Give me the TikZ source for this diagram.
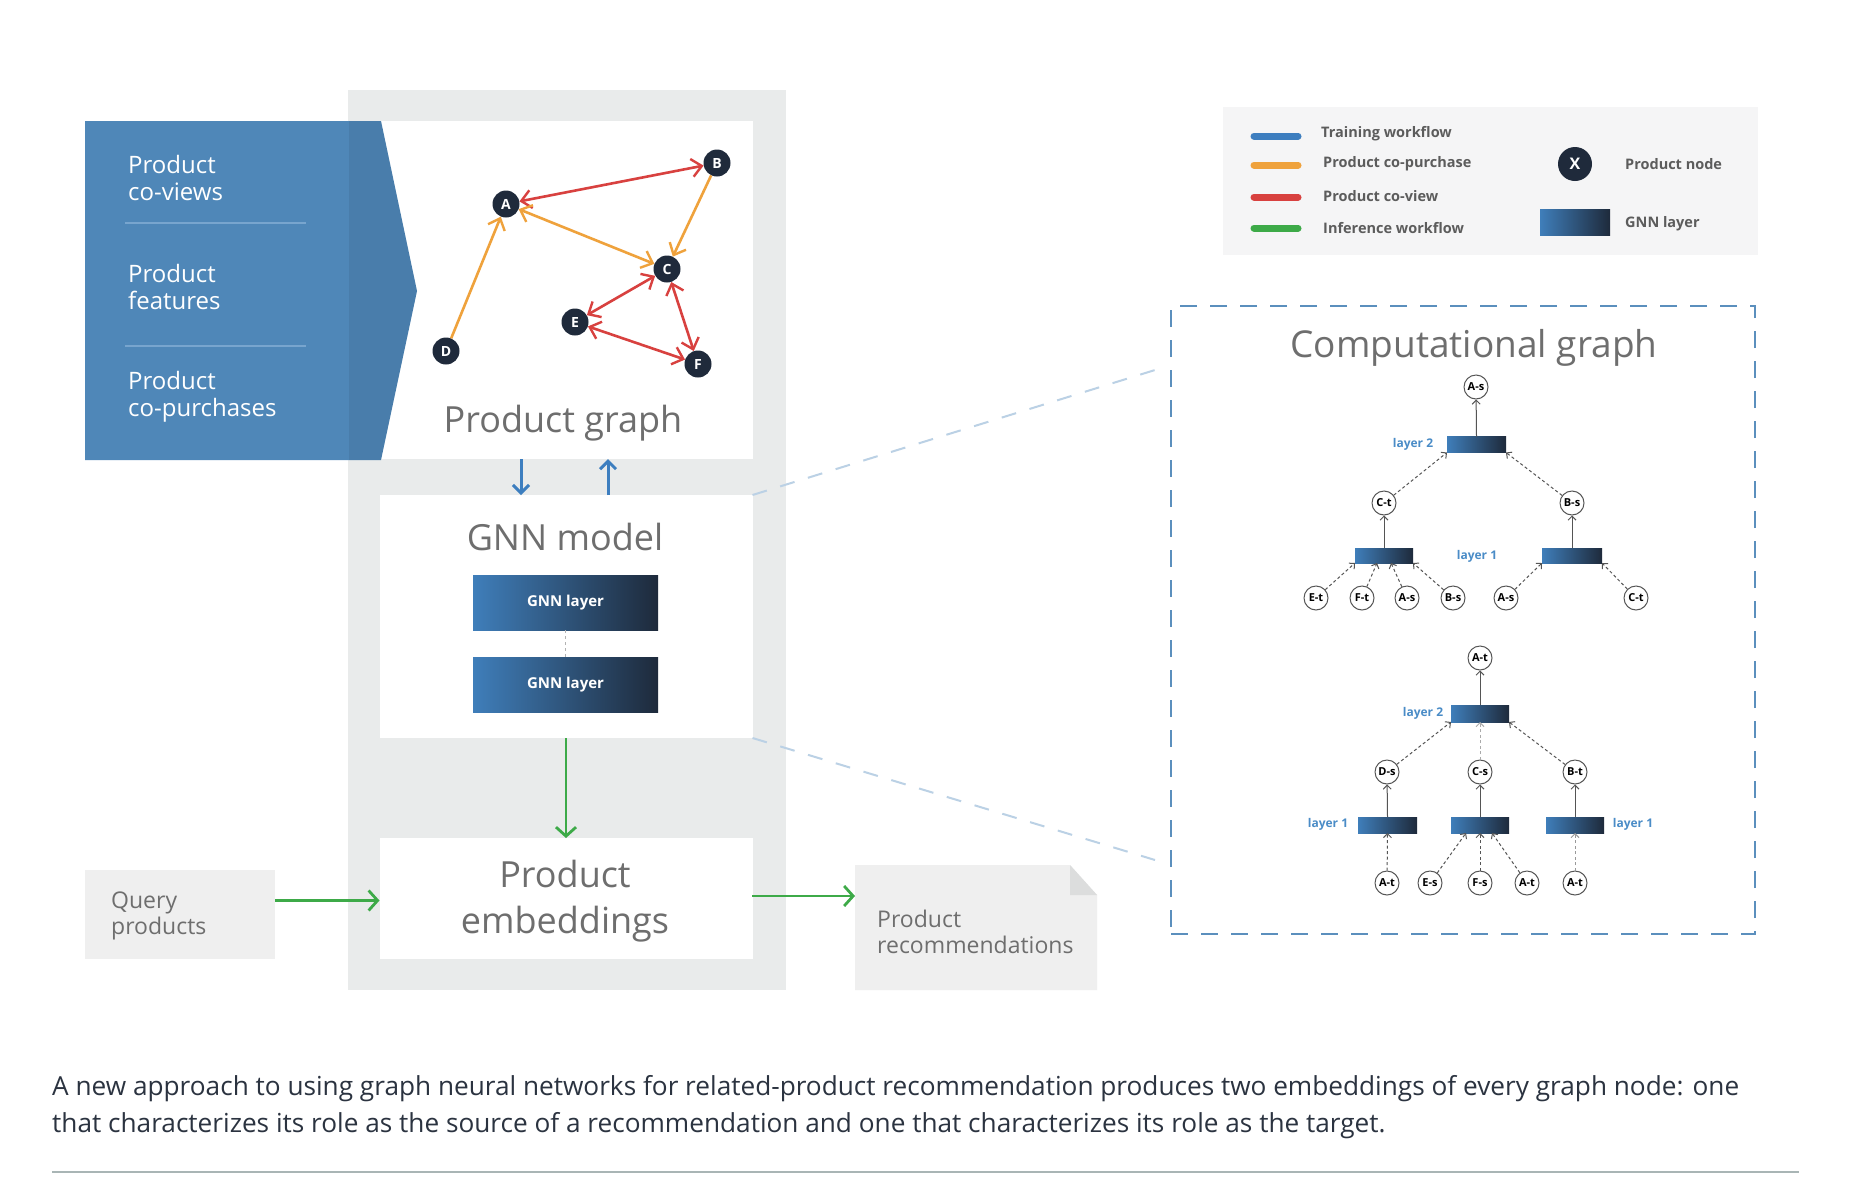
\documentclass[tikz,border=0pt]{standalone}
\usepackage{fontspec}
\setmainfont{Open Sans}
\usetikzlibrary{arrows.meta}
\definecolor{panelgray}{HTML}{E9EBEB}
\definecolor{lightbox}{HTML}{EFEFEF}
\definecolor{foldgray}{HTML}{DCDDDD}
\definecolor{bluepanel}{HTML}{4F87B8}
\definecolor{sepblue}{HTML}{78A5CE}
\definecolor{titlegray}{HTML}{6E6E6E}
\definecolor{navy}{HTML}{1F2A3B}
\definecolor{coview}{HTML}{D8413F}
\definecolor{copurch}{HTML}{EFA23C}
\definecolor{inferg}{HTML}{3DAA48}
\definecolor{trainb}{HTML}{3D7EBF}
\definecolor{barL}{HTML}{3F7EBA}
\definecolor{barR}{HTML}{1E2A3B}
\definecolor{legtext}{HTML}{5C5C5C}
\definecolor{legbg}{HTML}{F5F5F6}
\definecolor{cgdash}{HTML}{5B8FBD}
\definecolor{zoomdash}{HTML}{BBD1E5}
\definecolor{laylab}{HTML}{4A8CC7}
\definecolor{captext}{HTML}{2B3340}
\definecolor{rulecol}{HTML}{A9B5B5}
\definecolor{cgline}{HTML}{555555}
\begin{document}
\begin{tikzpicture}[x=1pt,y=-1pt,
  box/.style={inner sep=0pt, outer sep=0pt},
  title/.style={font=\fontsize{36}{46}\selectfont, text=titlegray, inner sep=0pt},
  ptext/.style={font=\fontsize{24}{26.5}\selectfont, text=white, align=left, anchor=west, inner sep=0pt},
  gtext/.style={font=\fontsize{23}{25.5}\selectfont, text=titlegray, align=left, anchor=west, inner sep=0pt},
  pnode/.style={circle, fill=navy, text=white, font=\bfseries\fontsize{14}{14}\selectfont, inner sep=0pt, minimum size=27pt},
  cnode/.style={circle, draw=cgline, line width=1pt, fill=white, font=\bfseries\fontsize{11}{11}\selectfont, inner sep=0pt, minimum size=24pt},
  gbar/.style={rectangle, left color=barL, right color=barR, inner sep=0pt, outer sep=0pt},
  laybl/.style={font=\bfseries\fontsize{12}{12}\selectfont, text=laylab, inner sep=0pt},
  legtxt/.style={font=\bfseries\fontsize{14.5}{15}\selectfont, text=legtext, anchor=west, inner sep=0pt},
  covw/.style={draw=coview, line width=2.6pt},
  copu/.style={draw=copurch, line width=2.6pt},
  garrow/.style={draw=inferg, line width=2.8pt, -{Straight Barb[length=9pt,width=20pt,line width=2.8pt]}},
  barrow/.style={draw=trainb, line width=3pt, -{Straight Barb[length=8pt,width=16pt,line width=3pt]}},
  solarr/.style={draw=cgline, line width=1pt, -{Straight Barb[length=4pt,width=8pt]}},
  dsharr/.style={draw=cgline, line width=1pt, dash pattern=on 3pt off 2.5pt, -{Straight Barb[length=4pt,width=8pt]}},
  >={Straight Barb[length=10pt,width=18pt,line width=2.4pt]}
]
\useasboundingbox (0,0) rectangle (1856,1200);
\fill[white] (0,0) rectangle (1856,1200);

% gray panel
\node[box, fill=panelgray, minimum width=438pt, minimum height=900pt] (panel) at (567,540) {};
% white boxes
\node[box, fill=white, minimum width=372pt, minimum height=338pt] (graph) at (567,290) {};
\node[box, fill=white, minimum width=373pt, minimum height=243pt] (gnnbox) at (566,616.5) {};
\node[box, fill=white, minimum width=373pt, minimum height=121pt] (pe) at (566,898.5) {};

% blue input panel
\fill[bluepanel] (85,121) -- (381,121) -- (417,291) -- (381,460) -- (85,460) -- cycle;
\fill[black, opacity=0.07] (349,121) -- (381,121) -- (417,291) -- (381,460) -- (349,460) -- cycle;
\draw[sepblue, line width=2pt] (125,223) -- (306,223);
\draw[sepblue, line width=2pt] (125,346) -- (306,346);
\node[ptext] (t1) at (128,178) {Product\\co-views};
\node[ptext] (t2) at (128,287) {Product\\features};
\node[ptext] (t3) at (128,397) {Product\\co-purchases};

% product graph
\node[pnode] (A) at (506,204) {A};
\node[pnode] (B) at (717,163) {B};
\node[pnode] (C) at (667,269) {C};
\node[pnode] (D) at (446,351) {D};
\node[pnode] (E) at (575,322) {E};
\node[pnode] (F) at (698,364) {F};
\draw[covw, <->] (A) -- (B);
\draw[copu, ->] (B) -- (C);
\draw[copu, <->] (A) -- (C);
\draw[copu, ->] (D) -- (A);
\draw[covw, <->] (C) -- (E);
\draw[covw, <->] (C) -- (F);
\draw[covw, <->] (E) -- (F);
\node[title, anchor=base] (pgt) at (563,432) {Product graph};

% training arrows
\coordinate (bd) at (521,0);
\coordinate (bu) at (608,0);
\draw[barrow] (bd |- graph.south) -- (bd |- gnnbox.north);
\draw[barrow] (bu |- gnnbox.north) -- (bu |- graph.south);

% GNN model
\node[title, anchor=base] (gnt) at (565,550) {GNN model};
\node[gbar, minimum width=185pt, minimum height=55pt, text=white, font=\bfseries\fontsize{15}{15}\selectfont] (g1) at (565.5,602.5) {GNN layer};
\node[gbar, minimum width=185pt, minimum height=55pt, text=white, font=\bfseries\fontsize{15}{15}\selectfont] (g2) at (565.5,684.5) {GNN layer};
\draw[gray!60, line width=0.8pt, dashed] (g1.south) -- (g2.north);

% inference flow
\draw[garrow] (gnnbox.south) -- (pe.north);
\node[title, align=center] (pet) at (565,901) {Product\\embeddings};
\node[box, fill=lightbox, minimum width=190pt, minimum height=89pt] (query) at (180,914.5) {};
\node[gtext] (qt) at (111,916) {Query\\products};
\coordinate (q1) at (275,900.5);
\draw[garrow] (q1) -- (q1 -| pe.west);
\node[box, minimum width=242pt, minimum height=125pt] (rec) at (976,927.5) {};
\fill[lightbox] (855,865) -- (1070,865) -- (1097,895) -- (1097,990) -- (855,990) -- cycle;
\fill[foldgray] (1070,865) -- (1097,895) -- (1070,895) -- cycle;
\node[gtext] (rt) at (877,932) {Product\\recommendations};
\coordinate (p1) at (752,896);
\draw[garrow] (p1) -- (p1 -| rec.west);

% legend
\node[box, fill=legbg, minimum width=535pt, minimum height=148pt] (legend) at (1490.5,181) {};
\draw[trainb, line width=7pt, line cap=round] (1254,136) -- (1298,136);
\draw[copurch, line width=7pt, line cap=round] (1254,165) -- (1298,165);
\draw[coview, line width=7pt, line cap=round] (1254,197) -- (1298,197);
\draw[inferg, line width=7pt, line cap=round] (1254,228) -- (1298,228);
\node[legtxt] (l1) at (1321,134) {Training workflow};
\node[legtxt] (l2) at (1323,164) {Product co-purchase};
\node[legtxt] (l3) at (1323,196) {Product co-view};
\node[legtxt] (l4) at (1323,228) {Inference workflow};
\node[pnode, minimum size=34pt, font=\bfseries\fontsize{16}{16}\selectfont] (lx) at (1575,164) {X};
\node[legtxt] (l5) at (1625,164) {Product node};
\node[gbar, minimum width=70pt, minimum height=26pt] (lg) at (1575,222) {};
\node[legtxt] (l6) at (1625,224) {GNN layer};

% computational graph frame and zoom lines
\node[box, draw=cgdash, line width=2pt, dash pattern=on 17pt off 13pt, minimum width=584pt, minimum height=628pt] (cg) at (1463,620) {};
\coordinate (z1) at (1155,370);
\coordinate (z2) at (1155,860);
\draw[zoomdash, line width=2pt, dash pattern=on 15pt off 14pt] (gnnbox.north east) -- (z1);
\draw[zoomdash, line width=2pt, dash pattern=on 15pt off 14pt] (gnnbox.south east) -- (z2);
\node[title, anchor=base, font=\fontsize{37}{40}\selectfont] (cgt) at (1474,357) {Computational graph};

% tree 1
\node[cnode] (ar) at (1476,387) {A-s};
\node[gbar, minimum width=59pt, minimum height=16pt] (aL2) at (1476.5,444.5) {};
\node[cnode] (act) at (1384,503) {C-t};
\node[cnode] (abs) at (1572,503) {B-s};
\node[gbar, minimum width=58pt, minimum height=15pt] (aL1a) at (1384,555.5) {};
\node[gbar, minimum width=60pt, minimum height=15pt] (aL1b) at (1572,555.5) {};
\node[cnode] (a1) at (1316,598) {E-t};
\node[cnode] (a2) at (1362,598) {F-t};
\node[cnode] (a3) at (1407,598) {A-s};
\node[cnode] (a4) at (1453,598) {B-s};
\node[cnode] (a5) at (1506,598) {A-s};
\node[cnode] (a6) at (1636,598) {C-t};
\node[laybl] (al2) at (1413,444) {layer 2};
\node[laybl] (al1) at (1477,556) {layer 1};
\draw[solarr] (aL2.north) -- (ar);
\draw[dsharr] (act) -- (aL2.south west);
\draw[dsharr] (abs) -- (aL2.south east);
\draw[solarr] (aL1a.north) -- (act);
\draw[solarr] (aL1b.north) -- (abs);
\draw[dsharr] (a1) -- (aL1a.south west);
\draw[dsharr] (a2) -- ([xshift=22pt]aL1a.south west);
\draw[dsharr] (a3) -- ([xshift=36pt]aL1a.south west);
\draw[dsharr] (a4) -- (aL1a.south east);
\draw[dsharr] (a5) -- (aL1b.south west);
\draw[dsharr] (a6) -- (aL1b.south east);

% tree 2
\node[cnode] (br) at (1480,658) {A-t};
\node[gbar, minimum width=58pt, minimum height=17pt] (bL2) at (1480,713.5) {};
\node[cnode] (bds) at (1387,772) {D-s};
\node[cnode] (bcs) at (1480,772) {C-s};
\node[cnode] (bbt) at (1575,772) {B-t};
\node[gbar, minimum width=59pt, minimum height=16pt] (bL1a) at (1387.5,825) {};
\node[gbar, minimum width=58pt, minimum height=16pt] (bL1b) at (1480,825) {};
\node[gbar, minimum width=58pt, minimum height=16pt] (bL1c) at (1575,825) {};
\node[cnode] (b1) at (1387,883) {A-t};
\node[cnode] (b2) at (1430,883) {E-s};
\node[cnode] (b3) at (1480,883) {F-s};
\node[cnode] (b4) at (1527,883) {A-t};
\node[cnode] (b5) at (1575,883) {A-t};
\node[laybl] (bl2) at (1423,713) {layer 2};
\node[laybl] (bl1) at (1328,824) {layer 1};
\node[laybl] (bl1r) at (1633,824) {layer 1};
\draw[solarr] (bL2.north) -- (br);
\draw[dsharr] (bds) -- (bL2.south west);
\draw[dsharr, draw=cgline!50] (bcs) -- (bL2.south);
\draw[dsharr] (bbt) -- (bL2.south east);
\draw[solarr] (bL1a.north) -- (bds);
\draw[solarr] (bL1b.north) -- (bcs);
\draw[solarr] (bL1c.north) -- (bbt);
\draw[dsharr] (b1) -- (bL1a.south);
\draw[dsharr] (b2) -- ([xshift=15pt]bL1b.south west);
\draw[dsharr] (b3) -- (bL1b.south);
\draw[dsharr] (b4) -- ([xshift=-17pt]bL1b.south east);
\draw[dsharr, draw=cgline!60] (b5) -- (bL1c.south);

% caption
\node[anchor=west, align=left, inner sep=0pt, text=captext, font=\fontsize{26.2}{37}\selectfont] (cap) at (52,1107.5) {A new approach to using graph neural networks for related-product recommendation produces two embeddings of every graph node: one\\that characterizes its role as the source of a recommendation and one that characterizes its role as the target.};
\draw[rulecol, line width=2pt] (52,1172) -- (1799,1172);
\end{tikzpicture}
\end{document}
